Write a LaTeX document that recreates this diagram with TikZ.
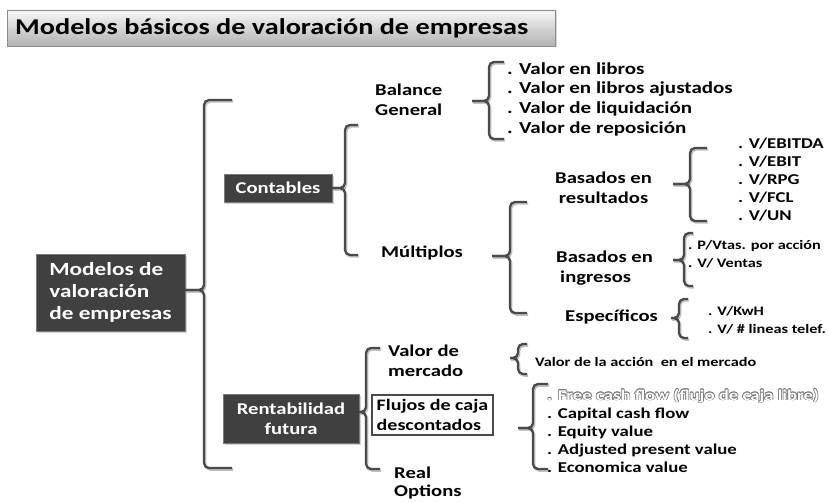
\documentclass[tikz,border=0pt]{standalone}
\usepackage{fontspec}
\setmainfont{Carlito}[FakeStretch=1.25]
\usetikzlibrary{shadows,calc}
\definecolor{boxfill}{HTML}{404040}
\definecolor{boxedge}{HTML}{7A7A7A}
\definecolor{brkcol}{HTML}{4A4A4A}
\newcommand\fsz[2]{\fontsize{#1}{#2}\selectfont}
\tikzset{
  brk/.style={draw=brkcol, line width=2.3pt, rounded corners=5pt},
  brkshadow/.style={draw=black!25, line width=2.3pt, rounded corners=5pt},
  darkbox/.style={draw=boxedge, line width=0.8pt, fill=boxfill, text=white,
    font=\bfseries, inner sep=0pt,
    drop shadow={shadow xshift=2pt, shadow yshift=-2pt, opacity=0.35}},
  lbl/.style={anchor=west, inner sep=0pt, align=left, font=\bfseries\fsz{16.5}{20}},
  itmA/.style={anchor=west, inner sep=0pt, text height=0.62em, text depth=0pt, font=\bfseries\fsz{16.8}{20}},
  itmB/.style={anchor=west, inner sep=0pt, text height=0.62em, text depth=0pt, font=\bfseries\fsz{15}{18}},
  itmC/.style={anchor=west, inner sep=0pt, text height=0.62em, text depth=0pt, font=\bfseries\fsz{13}{16}},
}
% bracket: x, top, bottom, middle, arm end x, nub end x
\newcommand\mybrk[6]{%
  \begin{scope}[shift={(1.2,1.6)}]
    \draw[brkshadow] (#5,#2) -- (#1,#2) -- (#1,#4) -- (#6,#4);
    \draw[brkshadow] (#5,#3) -- (#1,#3) -- (#1,#4) -- (#6,#4);
  \end{scope}
  \draw[brk] (#5,#2) -- (#1,#2) -- (#1,#4) -- (#6,#4);
  \draw[brk] (#5,#3) -- (#1,#3) -- (#1,#4) -- (#6,#4);
}
\begin{document}
\begin{tikzpicture}[x=1pt,y=-1pt]
\useasboundingbox (0,0) rectangle (829,502);
\fill[white] (0,0) rectangle (829,502);

% title
\node[draw=black!45, line width=0.8pt, top color=black!3, bottom color=black!30,
  minimum width=548pt, minimum height=36pt, inner sep=0pt,
  drop shadow={shadow xshift=1.5pt, shadow yshift=-1.5pt, opacity=0.3}] (titlebox) at (281,28) {};
\node[anchor=west, inner sep=0pt, font=\bfseries\fsz{22.6}{26}] (title) at (15,28.5)
  {Modelos básicos de valoración de empresas};

% main boxes
\node[darkbox, minimum width=149pt, minimum height=77pt, align=left, font=\bfseries\fsz{18.6}{22}] (mod) at (110.5,292.5)
  {Modelos de\\valoración\\de empresas};
\node[darkbox, minimum width=108pt, minimum height=28pt, font=\bfseries\fsz{16.5}{20}] (cont) at (278,188) {Contables};
\node[darkbox, minimum width=136pt, minimum height=49pt, align=center, font=\bfseries\fsz{16.5}{20}] (rent) at (291,418.5)
  {Rentabilidad\\futura};
\node[draw=brkcol, line width=1.2pt, fill=white, minimum width=121pt, minimum height=40pt, inner sep=0pt,
  align=left, font=\bfseries\fsz{16}{20}] (fluj) at (432.5,415) {Flujos de caja\\descontados};

% brackets
\mybrk{204}{100}{468}{290}{232}{185}
\mybrk{345}{125}{255}{188}{358}{332}
\mybrk{489}{62}{139}{101}{504}{472}
\mybrk{510}{202}{313}{256}{527}{492}
\mybrk{690}{148}{221}{184}{707}{673}
\mybrk{684}{233}{286}{260}{693}{673}
\mybrk{679}{299}{338}{318}{688}{671}
\mybrk{366}{348}{469}{412}{380}{359}
\mybrk{518}{344}{374}{358}{527}{510}
\mybrk{533}{384}{469}{428}{548}{518}

% level labels
\node[lbl] (bal) at (375,100) {Balance\\General};
\node[lbl] (mult) at (381,253) {Múltiplos};
\node[lbl, align=center] (basr) at (555,188) {Basados en\\resultados};
\node[lbl] (basi) at (556,268) {Basados en\\\hspace{4pt}ingresos};
\node[lbl] (esp) at (565,317) {Específicos};
\node[lbl] (valm) at (388,361) {Valor de\\mercado};
\node[lbl, font=\bfseries\fsz{16.5}{18}] (real) at (394,483) {Real\\Options};

% items of Balance General
\node[itmA] (b1) at (507,71) {. Valor en libros};
\node[itmA] (b2) at (507,90) {. Valor en libros ajustados};
\node[itmA] (b3) at (507,110) {. Valor de liquidación};
\node[itmA] (b4) at (507,130) {. Valor de reposición};

% items of Basados en resultados
\node[itmB] (r1) at (738,145) {. V/EBITDA};
\node[itmB] (r2) at (738,163) {. V/EBIT};
\node[itmB] (r3) at (738,181) {. V/RPG};
\node[itmB] (r4) at (738,199) {. V/FCL};
\node[itmB] (r5) at (738,217) {. V/UN};

% items of Basados en ingresos
\node[itmC] (i1) at (688,246) {. P/Vtas. por acción};
\node[itmC] (i2) at (688,264) {. V/ Ventas};

% items of Específicos
\node[itmC] (e1) at (708,312) {. V/KwH};
\node[itmC] (e2) at (708,330) {. V/ \# lineas telef.};

% item of Valor de mercado
\node[itmC] (m1) at (535,363) {Valor de la acción\ \ en el mercado};

% items of Flujos de caja descontados
\foreach \a in {0,45,...,315}
  \node[itmB, text=black!55] at ($(547,397)+(\a:0.7)$) {. Free cash flow (flujo de caja libre)};
\node[itmB, text=white] (f1) at (547,397) {. Free cash flow (flujo de caja libre)};
\node[itmB] (f2) at (547,415) {. Capital cash flow};
\node[itmB] (f3) at (547,433) {. Equity value};
\node[itmB] (f4) at (547,451) {. Adjusted present value};
\node[itmB] (f5) at (547,469) {. Economica value};
\end{tikzpicture}
\end{document}
